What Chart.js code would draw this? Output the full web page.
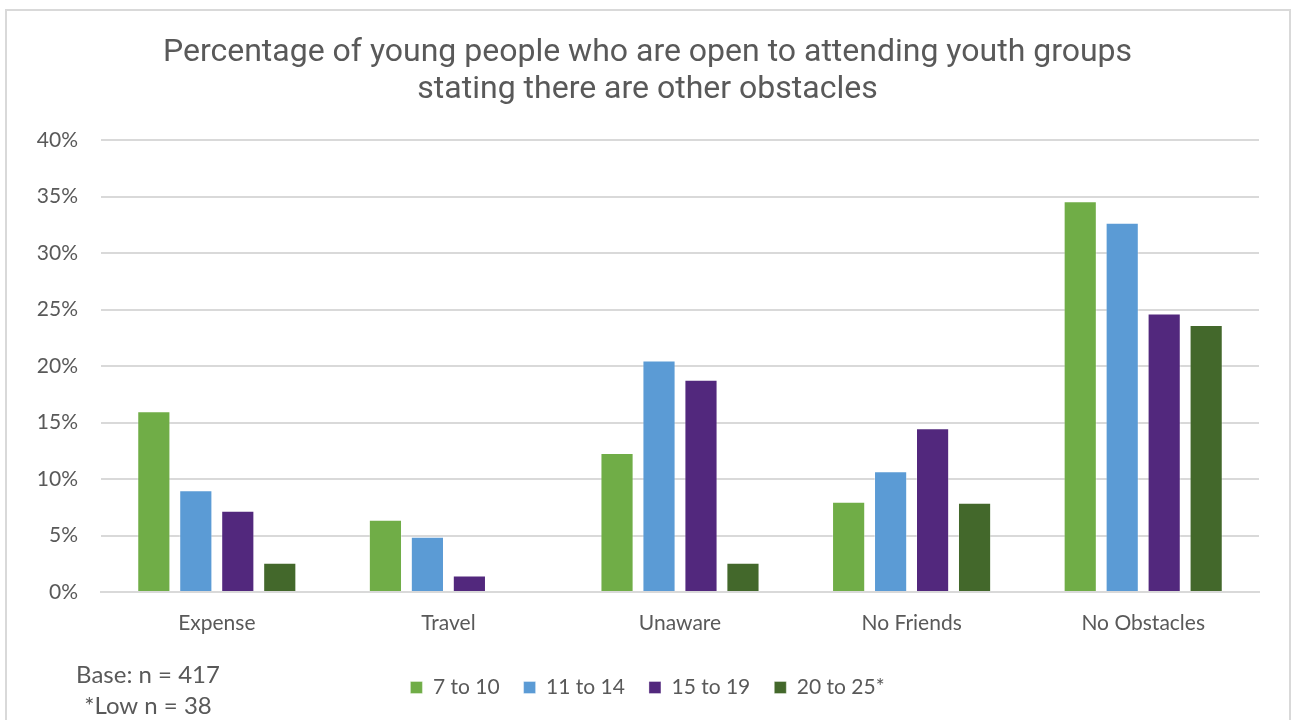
<!DOCTYPE html>
<html>
<head>
<meta charset="utf-8">
<script src="https://cdn.jsdelivr.net/npm/chart.js@4.4.1/dist/chart.umd.min.js"></script>
<style>
  html, body { margin: 0; padding: 0; background: #fff; overflow: hidden; }
  #frame {
    position: absolute; left: 5px; top: 9px; width: 1286px; height: 760px;
    border: 2px solid #d9d9d9; box-sizing: border-box;
  }
  #wrap { position: absolute; left: 0; top: 0; width: 1295px; height: 720px; }
</style>
</head>
<body>
<div id="frame"></div>
<div id="wrap"><canvas id="chart"></canvas></div>
<script>
// obstacles named by young people, % per age group
const categories = ['Expense', 'Travel', 'Unaware', 'No Friends', 'No Obstacles'];
const ages7to10  = [16.0, 6.4, 12.3, 8.0, 34.6];
const ages11to14 = [9.0, 4.9, 20.5, 10.7, 32.7];
const ages15to19 = [7.2, 1.45, 18.8, 14.5, 24.65];
const ages20to25 = [2.6, 0, 2.6, 7.9, 23.65];
const yTicks = [0, 5, 10, 15, 20, 25, 30, 35, 40];

const titleLines = ['Percentage of young people who are open to attending youth groups',
                    'stating there are other obstacles'];
const baseNote = ['Base: n = 417', '*Low n = 38'];

const textColor = '#595959';
const tickFont = { family: 'Lato', size: 21 };

function makeSet(label, data, color){
    return {
        label: label,
        data: data,
        backgroundColor: color,
        borderColor: 'rgba(255,255,255,0.35)',
        borderWidth: 1,
        barPercentage: 0.79,
        categoryPercentage: 0.725
    };
}

// small note under the axis, bottom left
const notePlugin = {
    id: 'baseNote',
    afterDraw(chart){
        const ctx = chart.ctx;
        ctx.save();
        ctx.fillStyle = textColor;
        ctx.font = '24px Lato';
        ctx.textAlign = 'center';
        ctx.textBaseline = 'middle';
        ctx.fillText(baseNote[0], 148, 675);
        ctx.fillText(baseNote[1], 148, 706);
        ctx.restore();
    }
};

const grapharea = document.getElementById('chart');
let CurrencyChart = new Chart(grapharea, {
    type: 'bar',
    data: {
        labels: categories,
        datasets: [
            makeSet('7 to 10', ages7to10, '#70ad47'),
            makeSet('11 to 14', ages11to14, '#5b9bd5'),
            makeSet('15 to 19', ages15to19, '#52287d'),
            makeSet('20 to 25*', ages20to25, '#43682b')
        ]
    },
    options: {
        responsive: true,
        maintainAspectRatio: false,
        animation: false,
        layout: { padding: { left: 36, right: 36, top: 26, bottom: 12 } },
        plugins: {
            title: {
                display: true,
                text: titleLines,
                color: textColor,
                font: { family: 'Roboto', size: 32, weight: 'normal', lineHeight: 1.16 },
                padding: { top: 8, bottom: 32 }
            },
            legend: {
                position: 'bottom',
                labels: {
                    color: textColor,
                    font: tickFont,
                    boxWidth: 12,
                    boxHeight: 12,
                    padding: 24
                }
            },
            tooltip: { enabled: false }
        },
        scales: {
            x: {
                afterFit(scale){ scale.height = 61; },
                grid: { display: false },
                border: { color: '#d9d9d9', width: 2 },
                ticks: { color: textColor, font: tickFont, padding: 11 }
            },
            y: {
                min: 0,
                max: 40,
                afterFit(scale){ scale.width = 65; },
                afterBuildTicks(scale){ scale.ticks = yTicks.map(v => ({ value: v })); },
                grid: { color: '#d9d9d9', lineWidth: 2, drawTicks: false },
                border: { display: false },
                ticks: {
                    color: textColor,
                    font: tickFont,
                    padding: 23,
                    callback: v => v + '%'
                }
            }
        }
    },
    plugins: [notePlugin]
});
</script>
</body>
</html>
